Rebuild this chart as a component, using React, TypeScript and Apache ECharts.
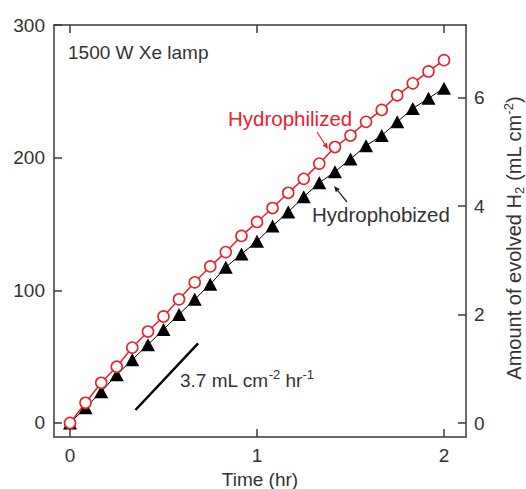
import React, { useEffect, useRef } from 'react';
import * as echarts from 'echarts';

const timeHr = [0, 0.083, 0.167, 0.25, 0.333, 0.417, 0.5, 0.583, 0.667, 0.75, 0.833, 0.917, 1, 1.083, 1.167, 1.25, 1.333, 1.417, 1.5, 1.583, 1.667, 1.75, 1.833, 1.917, 2];
const hydrophilized = [0, 15.2, 30.3, 42.4, 56.8, 68.9, 80.3, 93.2, 106, 118, 128.8, 141, 151.5, 162, 173.5, 184, 195.5, 208, 216.7, 227, 236, 247, 256, 265, 273.5];
const hydrophobized = [0, 11.4, 23.5, 36.4, 47.7, 59, 70.5, 81.8, 93.2, 104.5, 117.4, 127.3, 137, 148.5, 159, 170.5, 181, 189.4, 199, 209, 216.7, 227, 237, 244.7, 252.3];
const slopeLine = [[0.35, 0.24], [0.685, 1.47]];
const xTicks = [0, 1, 2];
const leftTicks = [0, 100, 200, 300];
const rightTicks = [0, 2, 4, 6];

const FONT = '"Liberation Sans", Arial, Helvetica, sans-serif';
const AX = '#3a3a3a';
const TXT = '#333333';
const RED = '#e8242b';

function arrow(x1: number, y1: number, x2: number, y2: number, color: string) {
  const ang = Math.atan2(y2 - y1, x2 - x1);
  const L = 6, W = 2.6;
  const bx = x2 - L * Math.cos(ang), by = y2 - L * Math.sin(ang);
  const px = -Math.sin(ang) * W, py = Math.cos(ang) * W;
  return [
    { type: 'line', shape: { x1, y1, x2: bx, y2: by }, style: { stroke: color, lineWidth: 1.2 } },
    { type: 'polygon', shape: { points: [[x2, y2], [bx + px, by + py], [bx - px, by - py]] }, style: { fill: color } },
  ];
}

export default function App() {
  const ref = useRef<HTMLDivElement>(null);
  useEffect(() => {
    if (!ref.current) return;
    const chart = echarts.init(ref.current, undefined, { renderer: 'svg' });
    const xy = (ys: number[]) => timeHr.map((t, i) => [t, ys[i]]);
    const axisCommon = {
      axisLine: { show: true, onZero: false, lineStyle: { color: AX, width: 1.5 } },
      axisTick: { show: true, inside: true, length: 8, lineStyle: { color: AX, width: 1.5 } },
      splitLine: { show: false },
      axisLabel: { color: TXT, fontSize: 19, fontFamily: FONT },
    };
    chart.setOption({
      animation: false,
      backgroundColor: '#ffffff',
      grid: { left: 54, right: 60, top: 25, bottom: 52, containLabel: false, outerBoundsMode: 'none' },
      xAxis: [
        {
          type: 'value', min: -0.0856, max: 2.1176, position: 'bottom',
          ...axisCommon,
          axisTick: { ...axisCommon.axisTick, customValues: xTicks },
          axisLabel: { ...axisCommon.axisLabel, margin: 9, customValues: xTicks },
          name: 'Time (hr)', nameLocation: 'middle', nameGap: 31,
          nameTextStyle: { color: TXT, fontSize: 19, fontFamily: FONT },
        },
        {
          type: 'value', min: -0.0856, max: 2.1176, position: 'top',
          ...axisCommon,
          axisTick: { ...axisCommon.axisTick, customValues: xTicks },
          axisLabel: { show: false },
        },
      ],
      yAxis: [
        {
          type: 'value', min: -10.6, max: 300, position: 'left',
          ...axisCommon,
          axisTick: { ...axisCommon.axisTick, customValues: leftTicks },
          axisLabel: { ...axisCommon.axisLabel, margin: 9, customValues: leftTicks },
        },
        {
          type: 'value', min: -0.258, max: 7.34, position: 'right',
          ...axisCommon,
          axisTick: { ...axisCommon.axisTick, customValues: rightTicks },
          axisLabel: { ...axisCommon.axisLabel, margin: 8, customValues: rightTicks },
          name: '{a|Amount of evolved H}{sub|2}{a| (mL cm}{sup|-2}{a|)}',
          nameLocation: 'middle', nameRotate: 90, nameGap: 36,
          nameTextStyle: {
            color: TXT, fontSize: 20, fontFamily: FONT, padding: [0, 14, 0, 0],
            rich: {
              a: { fontSize: 20, fontFamily: FONT, color: TXT, lineHeight: 24 },
              sub: { fontSize: 13, fontFamily: FONT, color: TXT, lineHeight: 14, verticalAlign: 'bottom' },
              sup: { fontSize: 13, fontFamily: FONT, color: TXT, lineHeight: 14, verticalAlign: 'top' },
            },
          },
        },
      ],
      series: [
        {
          name: 'Hydrophilized', type: 'line', data: xy(hydrophilized), xAxisIndex: 0, yAxisIndex: 0,
          symbol: 'circle', symbolSize: 11, z: 3,
          lineStyle: { color: RED, width: 1.5 },
          itemStyle: { color: '#ffffff', borderColor: RED, borderWidth: 1.6 },
        },
        {
          name: 'Hydrophobized', type: 'line', data: xy(hydrophobized), xAxisIndex: 0, yAxisIndex: 0,
          symbol: 'triangle', symbolSize: [14, 13], z: 2,
          lineStyle: { color: '#000000', width: 1 },
          itemStyle: { color: '#000000' },
        },
        {
          name: 'slope', type: 'line', data: slopeLine, xAxisIndex: 0, yAxisIndex: 1,
          symbol: 'none', lineStyle: { color: '#000000', width: 2.5 },
        },
      ],
      graphic: [
        {
          type: 'text', left: 68, top: 43,
          style: { text: '1500 W Xe lamp', fill: TXT, fontSize: 19, fontFamily: FONT },
        },
        {
          type: 'text', left: 228, top: 108,
          style: { text: 'Hydrophilized', fill: RED, fontSize: 20.5, fontFamily: FONT },
        },
        {
          type: 'text', left: 312, top: 204,
          style: { text: 'Hydrophobized', fill: TXT, fontSize: 20.5, fontFamily: FONT },
        },
        {
          type: 'text', left: 180, top: 368,
          style: {
            text: '{a|3.7 mL cm}{s|-2}{a| hr}{s|-1}',
            fill: TXT, fontFamily: FONT,
            rich: {
              a: { fontSize: 19, fontFamily: FONT, fill: TXT, lineHeight: 24 },
              s: { fontSize: 13, fontFamily: FONT, fill: TXT, lineHeight: 14, verticalAlign: 'top' },
            },
          },
        },
        ...arrow(317, 132, 328, 149, RED),
        ...arrow(347, 202, 334, 186, '#222222'),
      ],
    });
    return () => chart.dispose();
  }, []);
  return <div ref={ref} style={{ position: 'fixed', left: 0, top: 0, width: 526, height: 489 }} />;
}
